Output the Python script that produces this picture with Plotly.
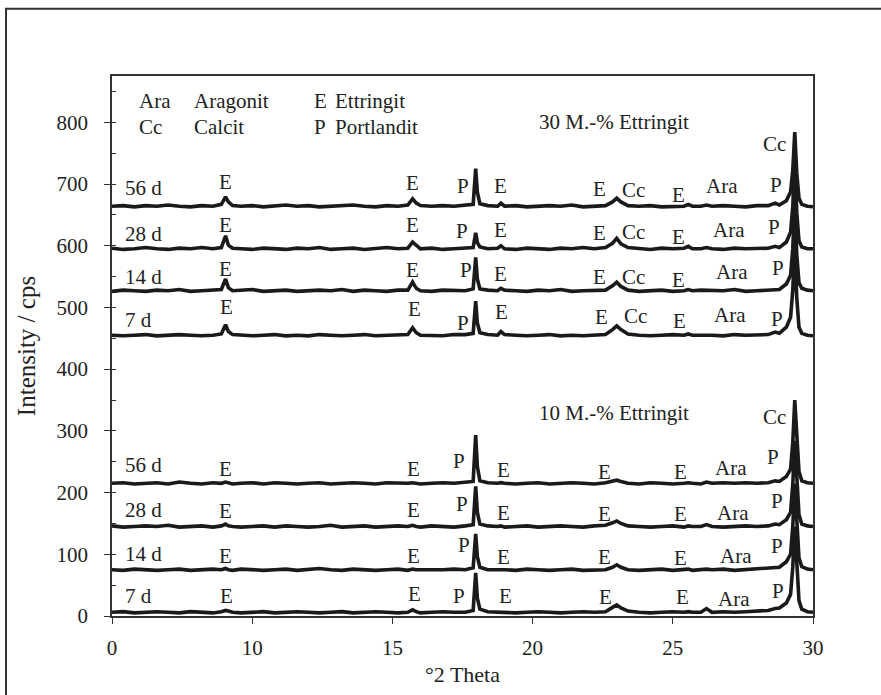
import plotly.graph_objects as go

# 2-theta sampling points shared by all patterns
theta = [5.0, 5.4, 5.8, 6.2, 6.6, 7.0, 7.4, 7.8, 8.2, 8.6,
         8.9, 9.05, 9.15, 9.3,
         9.6, 10.0, 10.4, 10.8, 11.2, 11.6, 12.0, 12.4, 12.8, 13.2, 13.6, 14.0, 14.4, 14.8, 15.2,
         15.55, 15.72, 15.85, 16.0,
         16.4, 16.8, 17.2,
         17.6, 17.88, 17.97, 18.03, 18.12, 18.4,
         18.75, 18.87, 19.0,
         19.4, 19.8, 20.2, 20.6, 21.0, 21.4, 21.8, 22.2,
         22.6, 22.85, 23.0, 23.15, 23.4,
         23.8, 24.2, 24.6, 25.0,
         25.4, 25.55, 25.7,
         26.0, 26.2, 26.4,
         26.8, 27.2, 27.6, 28.0,
         28.4, 28.65, 28.8,
         29.05, 29.2, 29.28, 29.35, 29.42, 29.5, 29.6, 29.8, 30.0]

# net intensities (cps) above each pattern's baseline
e30_56d = [1, 2, 0, 2, 1, 3, 1, 0, 2, 1,
           4, 16, 8, 2,
           1, 2, 0, 1, 3, 1, 2, 0, 1, 2, 3, 1, 0, 2, 1,
           3, 13, 6, 2,
           1, 2, 1,
           2, 4, 62, 24, 5, 2,
           1, 6, 1,
           2, 0, 1, 2, 1, 3, 0, 1,
           2, 8, 14, 8, 2,
           1, 2, 0, 1,
           1, 4, 1,
           1, 3, 1,
           2, 1, 0, 2,
           2, 6, 3,
           10, 24, 60, 121, 55, 14, 4, 1, 0]
e30_28d = [2, 0, 1, 3, 1, 0, 2, 1, 3, 1,
           3, 22, 7, 2,
           1, 0, 2, 1, 0, 2, 1, 3, 0, 1, 2, 0, 1, 3, 1,
           2, 12, 6, 1,
           2, 0, 1,
           2, 3, 27, 11, 4, 1,
           2, 6, 1,
           0, 2, 1, 0, 2, 1, 3, 1,
           3, 10, 18, 9, 3,
           1, 0, 2, 1,
           2, 5, 1,
           1, 3, 1,
           0, 2, 1, 2,
           2, 5, 3,
           12, 28, 70, 150, 60, 14, 4, 1, 1]
e30_14d = [0, 2, 1, 0, 2, 1, 3, 0, 1, 2,
           3, 20, 6, 1,
           2, 3, 0, 1, 2, 0, 1, 2, 1, 3, 0, 2, 1, 0, 2,
           2, 15, 5, 1,
           0, 2, 1,
           1, 4, 55, 20, 4, 2,
           1, 5, 2,
           1, 0, 2, 1, 3, 0, 1, 2,
           2, 9, 15, 8, 2,
           0, 1, 2, 0,
           1, 3, 1,
           2, 2, 1,
           1, 3, 0, 1,
           2, 4, 3,
           12, 26, 70, 150, 60, 14, 5, 2, 1]
e30_7d = [1, 0, 1, 2, 0, 1, 2, 1, 0, 1,
          3, 18, 7, 2,
          1, 0, 1, 2, 0, 1, 0, 2, 1, 0, 1, 2, 0, 1, 1,
          2, 13, 5, 1,
          1, 0, 2,
          2, 4, 56, 21, 5, 2,
          1, 7, 2,
          1, 0, 1, 2, 0, 1, 0, 1,
          2, 10, 16, 10, 3,
          1, 0, 1, 2,
          1, 3, 1,
          1, 2, 1,
          0, 2, 1, 1,
          2, 6, 4,
          14, 30, 75, 150, 62, 14, 4, 1, 0]
e10_56d = [1, 2, 0, 1, 2, 0, 3, 1, 0, 2,
           1, 3, 2, 0,
           1, 2, 0, 2, 1, 0, 1, 2, 0, 1, 2, 1, 0, 2, 1,
           1, 2, 1, 0,
           1, 2, 1,
           2, 4, 79, 28, 5, 2,
           1, 2, 1,
           0, 1, 2, 0, 1, 2, 1, 0,
           2, 4, 6, 4, 1,
           0, 2, 1, 0,
           1, 2, 1,
           0, 3, 1,
           2, 1, 2, 1,
           2, 5, 4,
           12, 24, 68, 136, 82, 20, 5, 2, 1]
e10_28d = [2, 0, 1, 2, 1, 3, 0, 1, 2, 0,
           2, 5, 2, 1,
           0, 1, 2, 0, 2, 1, 0, 1, 3, 0, 1, 2, 0, 1, 2,
           1, 3, 1, 0,
           2, 1, 0,
           2, 4, 66, 24, 5, 2,
           1, 2, 0,
           1, 2, 0, 1, 2, 1, 0, 2,
           3, 7, 10, 6, 2,
           1, 0, 1, 2,
           0, 2, 1,
           1, 4, 1,
           0, 1, 2, 1,
           2, 5, 4,
           12, 24, 70, 140, 84, 20, 5, 2, 1]
e10_14d = [1, 0, 2, 1, 0, 1, 2, 0, 1, 2,
           1, 3, 1, 0,
           2, 1, 0, 1, 2, 0, 1, 3, 1, 0, 2, 1, 0, 1, 2,
           0, 2, 1, 1,
           0, 1, 2,
           1, 4, 59, 22, 5, 1,
           1, 2, 1,
           0, 2, 1, 0, 1, 2, 0, 1,
           1, 5, 9, 5, 1,
           0, 1, 2, 0,
           1, 2, 0,
           1, 2, 1,
           2, 0, 1, 2,
           3, 4, 5,
           14, 26, 72, 140, 84, 20, 6, 2, 1]
e10_7d = [1, 2, 0, 1, 2, 1, 0, 2, 1, 0,
          2, 4, 3, 1,
          0, 1, 2, 0, 1, 2, 1, 0, 1, 2, 0, 1, 2, 1, 0,
          1, 5, 2, 0,
          1, 2, 1,
          1, 4, 65, 24, 6, 2,
          1, 2, 1,
          0, 1, 2, 1, 0, 1, 2, 1,
          2, 9, 13, 8, 3,
          1, 0, 1, 2,
          1, 2, 1,
          1, 7, 1,
          2, 1, 2, 3,
          4, 7, 8,
          16, 30, 75, 140, 84, 20, 6, 2, 1]

# stacking offsets (cps)
ages = ["7 d", "14 d", "28 d", "56 d"]
offsets_30 = [454, 526, 594, 663]
offsets_10 = [5, 74, 144, 214]
patterns_30 = [e30_7d, e30_14d, e30_28d, e30_56d]
patterns_10 = [e10_7d, e10_14d, e10_28d, e10_56d]

# age labels (left side)
age_x = 5.43
age_y_30 = [480, 549, 619, 693]
age_y_10 = [32, 100, 171, 244]

# phase markers above reflections
marks_30 = ["E", "E", "P", "E", "E", "Cc", "E", "Ara", "P"]
marks_30_x = [
    [9.1, 15.78, 17.53, 18.9, 22.45, 23.68, 25.23, 27.04, 28.7],
    [9.05, 15.70, 17.61, 18.84, 22.40, 23.59, 25.20, 27.1, 28.76],
    [9.05, 15.70, 17.47, 18.84, 22.40, 23.59, 25.20, 27.0, 28.62],
    [9.05, 15.70, 17.52, 18.84, 22.40, 23.59, 25.20, 26.74, 28.68],
]
marks_30_y = [
    [500, 497, 475, 493, 485, 486, 478, 487, 482],
    [562, 561, 560, 554, 549, 549, 544, 557, 564],
    [634, 634, 624, 626, 621, 622, 614, 625, 630],
    [703, 702, 696, 696, 692, 690, 682, 697, 699],
]
marks_10 = ["E", "E", "P", "E", "E", "E", "Ara", "P"]
marks_10_x = [
    [9.1, 15.8, 17.39, 19.02, 22.6, 25.33, 27.2, 28.76],
    [9.05, 15.75, 17.55, 18.96, 22.55, 25.28, 27.25, 28.7],
    [9.05, 15.75, 17.47, 18.96, 22.55, 25.28, 27.15, 28.7],
    [9.05, 15.75, 17.39, 18.96, 22.55, 25.28, 27.07, 28.58],
]
marks_10_y = [
    [33, 35, 33, 32, 30, 30, 28, 40],
    [97, 97, 115, 96, 95, 94, 97, 113],
    [170, 172, 181, 167, 165, 165, 167, 187],
    [238, 239, 251, 236, 233, 234, 240, 258],
]

# Cc labels at the main calcite reflection
cc_top = [("Cc", 28.61, 765), ("Cc", 28.64, 322)]

# series headings
headings = [("30 M.-% Ettringit", 22.9, 800), ("10 M.-% Ettringit", 22.9, 329)]

# key of abbreviations: two rows meeting at key_split
key_row1 = ["Ara", "Aragonit", "E", "Ettringit"]
key_row2 = ["Cc", "Calcit", "P", "Portlandit"]
key_x = [5.93, 7.89, 12.17, 12.92]
key_split = 814

tick_vals = [5, 10, 15, 20, 25, 30]
tick_text = ["0", "10", "15", "20", "25", "30"]

FONT = "Liberation Serif, Times New Roman, serif"
INK = "#1a1a1a"
TXT = "#222222"
FS = 21

fig = go.Figure()

for offs, pats in ((offsets_10, patterns_10), (offsets_30, patterns_30)):
    for off, net, age in zip(offs, pats, ages):
        fig.add_trace(go.Scatter(
            x=theta, y=[v + off for v in net], mode="lines",
            line=dict(color=INK, width=3.6), name=age, showlegend=False,
            hoverinfo="skip",
        ))

ann = []


def label(text, x, y, anchor="center", yanchor="middle"):
    ann.append(dict(text=text, x=x, y=y, xref="x", yref="y", showarrow=False,
                    xanchor=anchor, yanchor=yanchor, borderpad=0,
                    font=dict(family=FONT, size=FS, color=TXT)))


for ay, age in zip(age_y_30, ages):
    label(age, age_x, ay, "left")
for ay, age in zip(age_y_10, ages):
    label(age, age_x, ay, "left")
for xs, ys in zip(marks_30_x, marks_30_y):
    for t, mx, my in zip(marks_30, xs, ys):
        label(t, mx, my)
for xs, ys in zip(marks_10_x, marks_10_y):
    for t, mx, my in zip(marks_10, xs, ys):
        label(t, mx, my)
for t, mx, my in cc_top:
    label(t, mx, my)
for t, mx, my in headings:
    label(t, mx, my)
for t, mx in zip(key_row1, key_x):
    label(t, mx, key_split, "left", "bottom")
for t, mx in zip(key_row2, key_x):
    label(t, mx, key_split, "left", "top")

fig.update_layout(
    width=881, height=695,
    margin=dict(l=112, r=68, t=76, b=73),
    paper_bgcolor="white", plot_bgcolor="white",
    font=dict(family=FONT, size=FS, color=TXT),
    annotations=ann,
    shapes=[dict(type="rect", xref="paper", yref="paper",
                 x0=(6 - 112) / 701, x1=(900 - 112) / 701,
                 y0=(622 - 720) / 546, y1=(622 - 8) / 546,
                 line=dict(color="#333333", width=2), layer="below")],
)

fig.update_xaxes(
    range=[5, 30], tickvals=tick_vals, ticktext=tick_text,
    showline=True, linecolor="#333333", linewidth=1.5, mirror=True,
    ticks="outside", ticklen=6, tickcolor="#333333", tickwidth=1.2,
    ticklabelstandoff=6, showgrid=False, zeroline=False,
    tickfont=dict(family=FONT, size=FS, color=TXT),
    title=dict(text="°2 Theta", font=dict(family=FONT, size=22, color=TXT), standoff=8),
)
fig.update_yaxes(
    range=[0, 875], tick0=0, dtick=100,
    showline=True, linecolor="#333333", linewidth=1.5, mirror=True,
    ticks="outside", ticklen=6, tickcolor="#333333", tickwidth=1.2,
    ticklabelstandoff=12, showgrid=False, zeroline=False,
    minor=dict(dtick=50, ticks="inside", ticklen=4, tickcolor="#333333", tickwidth=1.2),
    tickfont=dict(family=FONT, size=FS, color=TXT),
    title=dict(text="Intensity / cps", font=dict(family=FONT, size=25, color=TXT), standoff=14),
)

fig.write_html("out.html")
